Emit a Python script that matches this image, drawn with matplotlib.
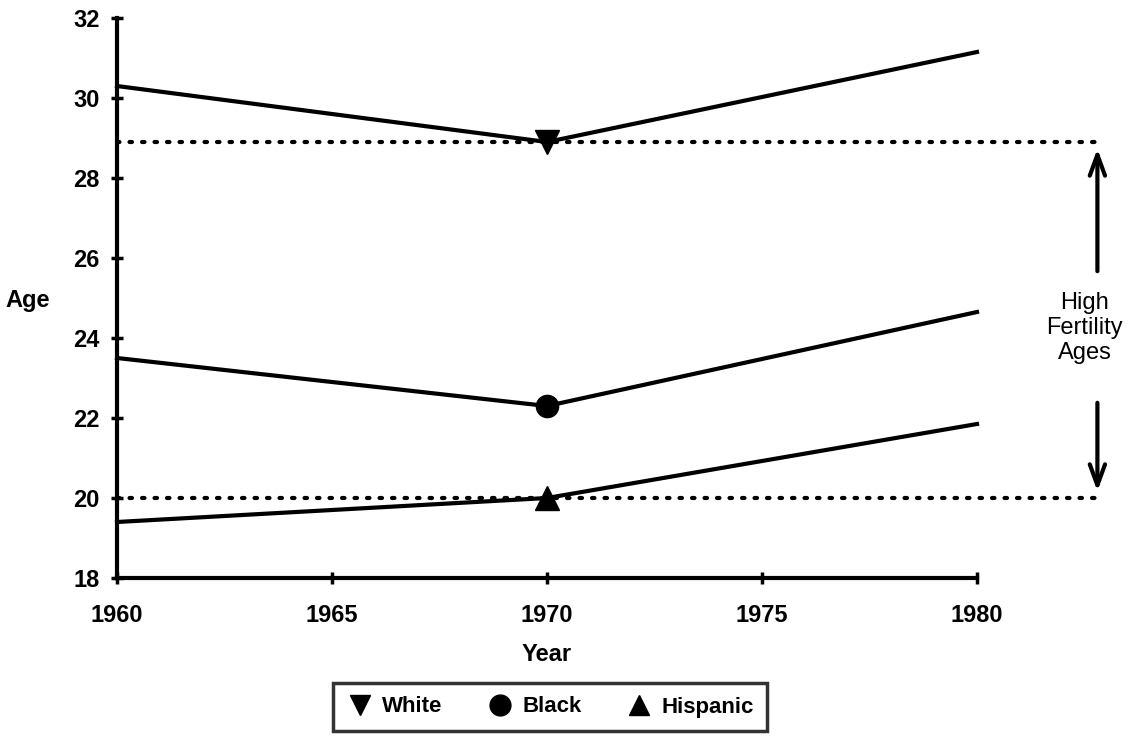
import matplotlib
matplotlib.use("Agg")
import matplotlib.pyplot as plt
from matplotlib.lines import Line2D

years = [1960, 1970, 1980]
white = [30.3, 28.9, 31.15]
black = [23.5, 22.3, 24.65]
hispanic = [19.4, 20.0, 21.85]
fertility_low, fertility_high = 20.0, 28.9
xticks = [1960, 1965, 1970, 1975, 1980]
yticks = [18, 20, 22, 24, 26, 28, 30, 32]

plt.rcParams['font.family'] = ['Liberation Sans', 'DejaVu Sans']
plt.rcParams['font.weight'] = 'bold'

fig = plt.figure(figsize=(11.3, 7.39), dpi=100)
ax = fig.add_axes([117/1130, 1-578/739, 860/1130, 560/739])

lw = 3
ax.plot(years, white, color='black', lw=lw, marker='v', markersize=17, markevery=[1], clip_on=False)
ax.plot(years, black, color='black', lw=lw, marker='o', markersize=16, markevery=[1], clip_on=False)
ax.plot(years, hispanic, color='black', lw=lw, marker='^', markersize=17, markevery=[1], clip_on=False)

for yv in (fertility_low, fertility_high):
    ax.plot([1960, 1982.9], [yv, yv], color='black', lw=3, linestyle=(0, (0.6, 2.4)),
            dash_capstyle='round', clip_on=False)

ax.set_xlim(1960, 1980)
ax.set_ylim(18, 32)
ax.set_xticks(xticks)
ax.set_yticks(yticks)
ax.tick_params(direction='inout', length=9, width=2.5, labelsize=17)
ax.tick_params(axis='x', pad=14)
ax.tick_params(axis='y', pad=8)
for lab in ax.get_xticklabels() + ax.get_yticklabels():
    lab.set_fontweight('bold')
for s in ('top', 'right'):
    ax.spines[s].set_visible(False)
for s in ('left', 'bottom'):
    ax.spines[s].set_linewidth(3)

ax.set_xlabel('Year', fontsize=17, fontweight='bold', labelpad=12)
fig.text(28/1130, 1-300/739, 'Age', fontsize=17, fontweight='bold', ha='center', va='center')

# arrows
aprops = dict(arrowstyle='->,head_length=1.5,head_width=0.55', lw=3, color='black')
ax.annotate('', xy=(1982.8, fertility_high - 0.1), xytext=(1982.8, 25.6),
            arrowprops=aprops, annotation_clip=False)
ax.annotate('', xy=(1982.8, fertility_low + 0.1), xytext=(1982.8, 22.45),
            arrowprops=aprops, annotation_clip=False)
ax.text(1982.5, 24.25, 'High\nFertility\nAges', ha='center', va='center', fontsize=17,
        fontweight='normal', linespacing=1.2, clip_on=False)

handles = [Line2D([], [], color='black', marker='v', linestyle='none', markersize=15),
           Line2D([], [], color='black', marker='o', linestyle='none', markersize=15),
           Line2D([], [], color='black', marker='^', linestyle='none', markersize=15)]
leg = fig.legend(handles, ['White', 'Black', 'Hispanic'], loc='center',
                 bbox_to_anchor=(550/1130, 1-707/739), ncol=3, frameon=True,
                 fancybox=False, edgecolor='black', fontsize=16, handletextpad=0.4,
                 columnspacing=2.0, borderpad=0.6, handlelength=1.2)
leg.get_frame().set_linewidth(2.5)
for t in leg.get_texts():
    t.set_fontweight('bold')

fig.savefig('out.png', dpi=100)
